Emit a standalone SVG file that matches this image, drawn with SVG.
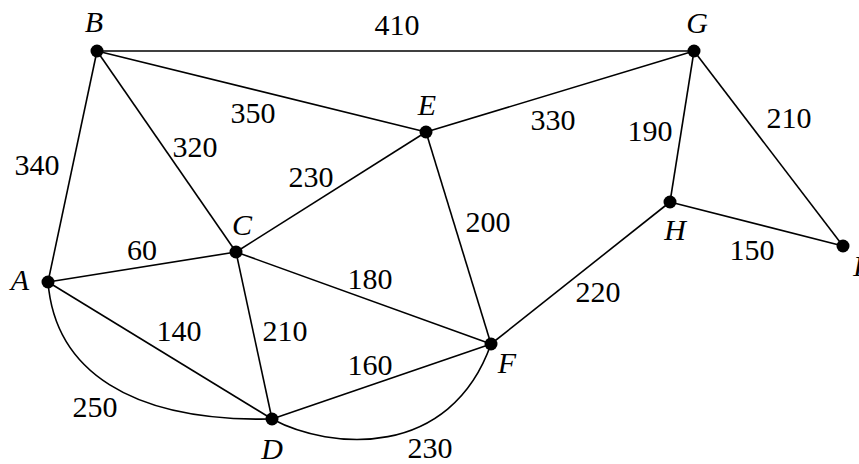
<svg xmlns="http://www.w3.org/2000/svg" width="859" height="464" viewBox="0 0 859 464">
<style>
.e{stroke:#000;stroke-width:1.6;fill:none}
.n{fill:#000}
.l{font-size:30px;font-style:italic;fill:#000;text-anchor:middle}
.w{font-size:30px;fill:#000;text-anchor:middle}
</style>
<rect width="859" height="464" fill="#fff"/>
<g id="connectors" font-family="Liberation Serif, Tinos, Times New Roman, serif">
<line class="e" x1="97" y1="51" x2="694" y2="51"/>
<line class="e" x1="97" y1="51" x2="426" y2="132"/>
<line class="e" x1="97" y1="51" x2="236" y2="252"/>
<line class="e" x1="97" y1="51" x2="48" y2="282"/>
<line class="e" x1="694" y1="51" x2="426" y2="132"/>
<line class="e" x1="694" y1="51" x2="670" y2="202"/>
<line class="e" x1="694" y1="51" x2="843" y2="246"/>
<line class="e" x1="670" y1="202" x2="843" y2="246"/>
<line class="e" x1="670" y1="202" x2="491" y2="344"/>
<line class="e" x1="426" y1="132" x2="236" y2="252"/>
<line class="e" x1="426" y1="132" x2="491" y2="344"/>
<line class="e" x1="236" y1="252" x2="48" y2="282"/>
<line class="e" x1="236" y1="252" x2="491" y2="344"/>
<line class="e" x1="236" y1="252" x2="272" y2="419"/>
<line class="e" x1="48" y1="282" x2="272" y2="419"/>
<line class="e" x1="272" y1="419" x2="491" y2="344"/>
<path class="e" d="M48,282 C55,370 130,422 272,419"/>
<path class="e" d="M272,419 C330,450 450,460 491,344"/>
<text class="w" x="397" y="35">410</text>
<text class="w" x="253" y="123">350</text>
<text class="w" x="195" y="157">320</text>
<text class="w" x="37" y="175">340</text>
<text class="w" x="553" y="130">330</text>
<text class="w" x="488" y="232">200</text>
<text class="w" x="650" y="141">190</text>
<text class="w" x="789" y="128">210</text>
<text class="w" x="752" y="260">150</text>
<text class="w" x="311" y="187">230</text>
<text class="w" x="370" y="289">180</text>
<text class="w" x="598" y="302">220</text>
<text class="w" x="142" y="260">60</text>
<text class="w" x="179" y="341">140</text>
<text class="w" x="285" y="341">210</text>
<text class="w" x="95" y="417">250</text>
<text class="w" x="370" y="375">160</text>
<text class="w" x="430" y="458">230</text>
</g>
<g id="nodes" font-family="Liberation Serif, Tinos, Times New Roman, serif">
<g id="B"><circle class="n" cx="97" cy="51" r="6.5"/><text class="l" x="94" y="32">B</text></g>
<g id="G"><circle class="n" cx="694" cy="51" r="6.5"/><text class="l" x="697" y="33">G</text></g>
<g id="E"><circle class="n" cx="426" cy="132" r="6.5"/><text class="l" x="427" y="115">E</text></g>
<g id="C"><circle class="n" cx="236" cy="252" r="6.5"/><text class="l" x="242" y="235">C</text></g>
<g id="A"><circle class="n" cx="48" cy="282" r="6.5"/><text class="l" x="20" y="290">A</text></g>
<g id="H"><circle class="n" cx="670" cy="202" r="6.5"/><text class="l" x="675" y="240">H</text></g>
<g id="I"><circle class="n" cx="843" cy="246" r="6.5"/><text class="l" x="858" y="276">I</text></g>
<g id="F"><circle class="n" cx="491" cy="344" r="6.5"/><text class="l" x="507" y="373">F</text></g>
<g id="D"><circle class="n" cx="272" cy="419" r="6.5"/><text class="l" x="272" y="459">D</text></g>
</g>
</svg>
